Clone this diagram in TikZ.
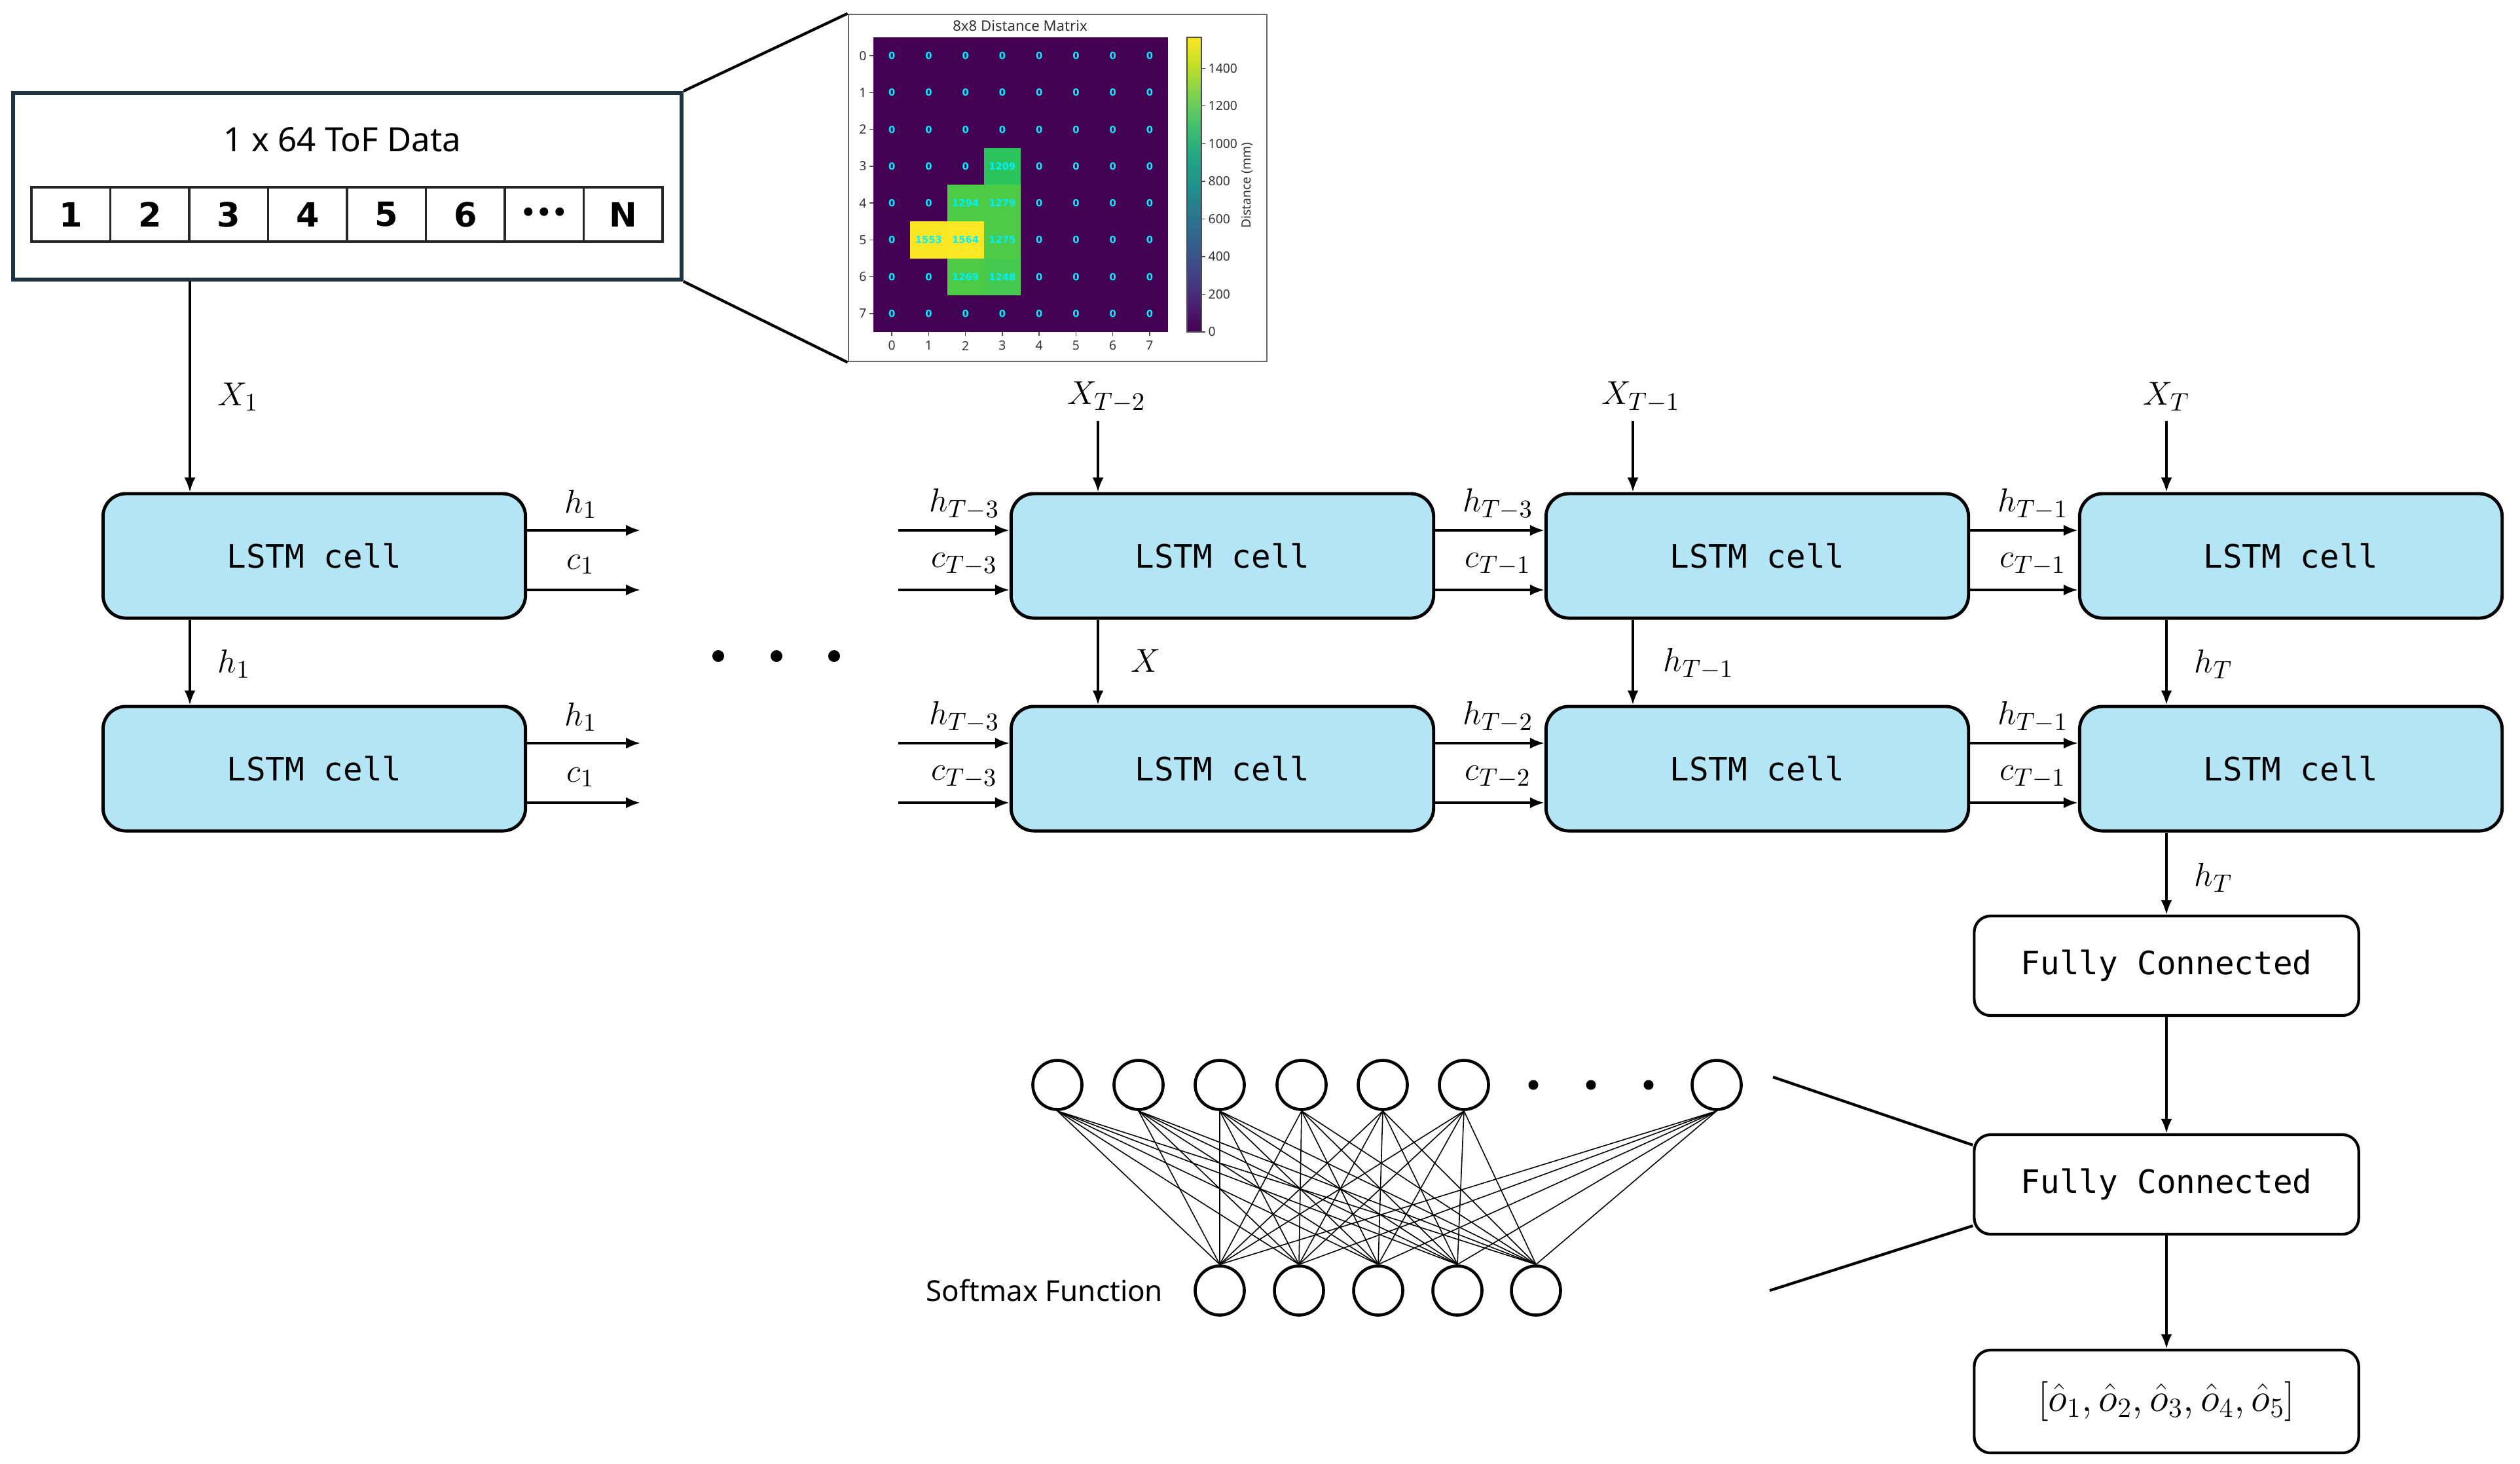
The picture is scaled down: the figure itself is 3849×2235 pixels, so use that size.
\documentclass[tikz,border=0pt]{standalone}
\usepackage{fontspec}
\setmainfont{Noto Sans}
\newfontfamily\monofont{DejaVu Sans Mono}
\newfontfamily\boldsans{DejaVu Sans}
\usetikzlibrary{arrows.meta,calc}
\definecolor{lstmfill}{HTML}{B4E5F5}
\definecolor{tofedge}{HTML}{1E3440}
\definecolor{vira}{HTML}{440154}
\definecolor{virb}{HTML}{482475}
\definecolor{virc}{HTML}{414487}
\definecolor{vird}{HTML}{355F8D}
\definecolor{vire}{HTML}{2A788E}
\definecolor{virf}{HTML}{21918C}
\definecolor{virg}{HTML}{22A884}
\definecolor{virh}{HTML}{44BF70}
\definecolor{viri}{HTML}{7AD151}
\definecolor{virj}{HTML}{BDDF26}
\definecolor{virk}{HTML}{FDE725}
\definecolor{gA}{HTML}{2BC45A}
\definecolor{gB}{HTML}{4CCB47}
\definecolor{gC}{HTML}{45C94E}
\definecolor{yA}{HTML}{FCE623}
\definecolor{hmcyan}{HTML}{00F0FF}
\begin{document}
\begin{tikzpicture}[x=0.01cm,y=-0.01cm,
  lstm/.style={draw=black, line width=1.4pt, fill=lstmfill, rounded corners=0.35cm,
    minimum width=6.45cm, minimum height=1.9cm, inner sep=0pt,
    font=\monofont\fontsize{14}{16}\selectfont},
  fcbox/.style={draw=black, line width=1.2pt, fill=white, rounded corners=0.25cm,
    minimum width=5.87cm, minimum height=1.52cm, inner sep=0pt,
    font=\monofont\fontsize{14}{16}\selectfont},
  arr/.style={-{Latex[length=0.22cm,width=0.17cm]}, line width=1pt},
  lab/.style={font=\fontsize{15}{18}\selectfont, inner sep=0pt},
  tofcell/.style={draw=black!85, line width=1.1pt, minimum width=1.205cm, minimum height=0.83cm,
    inner sep=0pt, font=\boldsans\bfseries\fontsize{14.5}{17}\selectfont},
  neuron/.style={circle, draw=black, line width=1.3pt, minimum size=0.75cm, inner sep=0pt},
  hmtxt/.style={font=\boldsans\bfseries\fontsize{4.2}{5}\selectfont, text=hmcyan, inner sep=0pt},
  axtxt/.style={font=\fontsize{5.5}{6}\selectfont, text=black!80, inner sep=0pt}
]
\useasboundingbox (0,0) rectangle (3849,2235);

% ---------- ToF data box ----------
\node[draw=tofedge, line width=1.6pt, minimum width=10.21cm, minimum height=2.85cm, inner sep=0pt] (tof) at (530.5,284.5) {};
\node[font=\fontsize{14.5}{17}\selectfont] (toftitle) at (523,213) {1 x 64 ToF Data};
\foreach \t [count=\i from 0] in {1,2,3,4,5,6,{\fontsize{10.5}{12}\selectfont •••},N}
  \node[tofcell] (cell\i) at (108.25+120.5*\i,327.5) {\t};

% ---------- heat map picture ----------
\node[draw=black!60, line width=0.7pt, minimum width=6.39cm, minimum height=5.3cm, inner sep=0pt] (hm) at (1615.5,287) {};
\draw[line width=1.2pt] (tof.north east) -- (hm.north west);
\draw[line width=1.2pt] (tof.south east) -- (hm.south west);
\node[axtxt, font=\fontsize{6.3}{7}\selectfont] (hmtitle) at (1558,39) {8x8 Distance Matrix};
\fill[vira] (1334,57) rectangle (1784,507);
\fill[gA] (1334+3*56.25,57+3*56.25) rectangle ++(56.25,56.25);
\fill[gB] (1334+2*56.25,57+4*56.25) rectangle ++(56.25,56.25);
\fill[gB] (1334+3*56.25,57+4*56.25) rectangle ++(56.25,56.25);
\fill[yA] (1334+1*56.25,57+5*56.25) rectangle ++(56.25,56.25);
\fill[virk] (1334+2*56.25,57+5*56.25) rectangle ++(56.25,56.25);
\fill[gB] (1334+3*56.25,57+5*56.25) rectangle ++(56.25,56.25);
\fill[gB] (1334+2*56.25,57+6*56.25) rectangle ++(56.25,56.25);
\fill[gC] (1334+3*56.25,57+6*56.25) rectangle ++(56.25,56.25);
\foreach \r/\vals in {0/{0,0,0,0,0,0,0,0},1/{0,0,0,0,0,0,0,0},2/{0,0,0,0,0,0,0,0},
   3/{0,0,0,1209,0,0,0,0},4/{0,0,1294,1279,0,0,0,0},5/{0,1553,1564,1275,0,0,0,0},
   6/{0,0,1269,1248,0,0,0,0},7/{0,0,0,0,0,0,0,0}}{
  \foreach \v [count=\c from 0] in \vals
    \node[hmtxt] at (1362.125+56.25*\c,85.125+56.25*\r) {\v};
}
\foreach \k in {0,...,7}{
  \draw[line width=0.4pt,black!70] (1334,85.125+56.25*\k) -- ++(-6,0);
  \node[axtxt] at (1318,85.125+56.25*\k) {\k};
  \draw[line width=0.4pt,black!70] (1362.125+56.25*\k,507) -- ++(0,6);
  \node[axtxt] at (1362.125+56.25*\k,528) {\k};
}
\foreach \a/\b [count=\i from 0] in {vira/virb,virb/virc,virc/vird,vird/vire,vire/virf,virf/virg,virg/virh,virh/viri,viri/virj,virj/virk}
  \shade[bottom color=\a, top color=\b] (1813,507-45*\i) rectangle (1835,507-45*\i-45.5);
\draw[line width=0.4pt,black!70] (1813,57) rectangle (1835,507);
\foreach \v in {0,200,400,600,800,1000,1200,1400}{
  \draw[line width=0.4pt,black!70] (1835,507-\v/1564*450) -- ++(6,0);
  \node[axtxt, anchor=west] at (1845,507-\v/1564*450) {\v};
}
\node[axtxt, rotate=90] (cblabel) at (1905,283) {Distance (mm)};

% ---------- LSTM cells ----------
\node[lstm] (L11) at (480,849) {LSTM cell};
\node[lstm] (L21) at (480,1174) {LSTM cell};
\node[lstm] (L12) at (1867,849) {LSTM cell};
\node[lstm] (L22) at (1867,1174) {LSTM cell};
\node[lstm] (L13) at (2684,849) {LSTM cell};
\node[lstm] (L23) at (2684,1174) {LSTM cell};
\node[lstm] (L14) at (3499,849) {LSTM cell};
\node[lstm] (L24) at (3499,1174) {LSTM cell};

\coordinate (k1) at (290,0);
\coordinate (k2) at (1677,0);
\coordinate (k3) at (2494,0);
\coordinate (k4) at (3309,0);

% inputs from top
\draw[arr] (tof.south -| k1) -- (L11.north -| k1);
\node[lab, anchor=west] (lx1) at (332,606) {$X_1$};
\coordinate (s2) at (1677,643);
\coordinate (s3) at (2494,643);
\coordinate (s4) at (3309,643);
\draw[arr] (s2) -- (L12.north -| s2);
\draw[arr] (s3) -- (L13.north -| s3);
\draw[arr] (s4) -- (L14.north -| s4);
\node[lab] (lx2) at (1690,606) {$X_{T-2}$};
\node[lab] (lx3) at (2506,606) {$X_{T-1}$};
\node[lab] (lx4) at (3309,606) {$X_{T}$};

% between rows
\draw[arr] (L11.south -| k1) -- (L21.north -| k1);
\draw[arr] (L12.south -| k2) -- (L22.north -| k2);
\draw[arr] (L13.south -| k3) -- (L23.north -| k3);
\draw[arr] (L14.south -| k4) -- (L24.north -| k4);
\node[lab, anchor=west] (lv1) at (332,1014) {$h_1$};
\node[lab, anchor=west] (lv2) at (1727,1009) {$X$};
\node[lab, anchor=west] (lv3) at (2540,1014) {$h_{T-1}$};
\node[lab, anchor=west] (lv4) at (3351,1014) {$h_T$};

% column 1 outputs
\coordinate (o1h) at ($(L11.east)+(173,-39)$);
\coordinate (o1c) at ($(L11.east)+(173,52)$);
\coordinate (o2h) at ($(L21.east)+(173,-39)$);
\coordinate (o2c) at ($(L21.east)+(173,52)$);
\draw[arr] ($(L11.east)+(0,-39)$) -- (o1h);
\draw[arr] ($(L11.east)+(0,52)$) -- (o1c);
\draw[arr] ($(L21.east)+(0,-39)$) -- (o2h);
\draw[arr] ($(L21.east)+(0,52)$) -- (o2c);
\node[lab] at (887,770) {$h_1$};
\node[lab] at (887,862) {$c_1$};
\node[lab] at (887,1095) {$h_1$};
\node[lab] at (887,1187) {$c_1$};

% column 2 inputs
\coordinate (i1h) at ($(L12.west)+(-170,-39)$);
\coordinate (i1c) at ($(L12.west)+(-170,52)$);
\coordinate (i2h) at ($(L22.west)+(-170,-39)$);
\coordinate (i2c) at ($(L22.west)+(-170,52)$);
\draw[arr] (i1h) -- ($(L12.west)+(0,-39)$);
\draw[arr] (i1c) -- ($(L12.west)+(0,52)$);
\draw[arr] (i2h) -- ($(L22.west)+(0,-39)$);
\draw[arr] (i2c) -- ($(L22.west)+(0,52)$);
\node[lab] at (1473,770) {$h_{T-3}$};
\node[lab] at (1473,862) {$c_{T-3}$};
\node[lab] at (1473,1095) {$h_{T-3}$};
\node[lab] at (1473,1187) {$c_{T-3}$};

% between columns
\draw[arr] ($(L12.east)+(0,-39)$) -- ($(L13.west)+(0,-39)$);
\draw[arr] ($(L12.east)+(0,52)$) -- ($(L13.west)+(0,52)$);
\draw[arr] ($(L22.east)+(0,-39)$) -- ($(L23.west)+(0,-39)$);
\draw[arr] ($(L22.east)+(0,52)$) -- ($(L23.west)+(0,52)$);
\draw[arr] ($(L13.east)+(0,-39)$) -- ($(L14.west)+(0,-39)$);
\draw[arr] ($(L13.east)+(0,52)$) -- ($(L14.west)+(0,52)$);
\draw[arr] ($(L23.east)+(0,-39)$) -- ($(L24.west)+(0,-39)$);
\draw[arr] ($(L23.east)+(0,52)$) -- ($(L24.west)+(0,52)$);
\node[lab] at (2288,770) {$h_{T-3}$};
\node[lab] at (2288,862) {$c_{T-1}$};
\node[lab] at (2288,1095) {$h_{T-2}$};
\node[lab] at (2288,1187) {$c_{T-2}$};
\node[lab] at (3105,770) {$h_{T-1}$};
\node[lab] at (3105,862) {$c_{T-1}$};
\node[lab] at (3105,1095) {$h_{T-1}$};
\node[lab] at (3105,1187) {$c_{T-1}$};

% ellipsis dots
\fill (1097,1002) circle (0.09cm);
\fill (1186,1002) circle (0.09cm);
\fill (1274,1002) circle (0.09cm);

% ---------- fully connected part ----------
\node[fcbox] (fc1) at (3309,1475) {Fully Connected};
\node[fcbox] (fc2) at (3309,1809) {Fully Connected};
\node[fcbox, minimum height=1.57cm] (out) at (3309,2140.5) {\fontsize{16.5}{19}\selectfont$[\hat{o}_1,\hat{o}_2,\hat{o}_3,\hat{o}_4,\hat{o}_5]$};
\draw[arr] (L24.south -| k4) -- (fc1.north -| k4);
\node[lab, anchor=west] (lhT) at (3351,1340) {$h_T$};
\draw[arr] (fc1) -- (fc2);
\draw[arr] (fc2) -- (out);

% ---------- neural net ----------
\foreach \x [count=\i] in {1615,1739,1863,1988,2112,2236,2622}
  \node[neuron] (t\i) at (\x,1657) {};
\foreach \x [count=\j] in {1863,1984,2105,2226,2346}
  \node[neuron] (b\j) at (\x,1971) {};
\foreach \i in {1,...,7}
  \foreach \j in {1,...,5}
    \draw[line width=0.45pt] (t\i.south) -- (b\j.north);
\fill (2342,1657) circle (0.075cm);
\fill (2430,1657) circle (0.075cm);
\fill (2518,1657) circle (0.075cm);
\node[font=\fontsize{12.5}{15}\selectfont, anchor=west, inner sep=0pt] (smx) at (1414,1971) {Softmax Function};
\coordinate (p1) at (2708,1645);
\coordinate (p2) at (2703,1971);
\draw[line width=1.2pt] (p1) -- ($(fc2.north west)+(0,18)$);
\draw[line width=1.2pt] (p2) -- ($(fc2.south west)+(0,-15)$);
\end{tikzpicture}
\end{document}
